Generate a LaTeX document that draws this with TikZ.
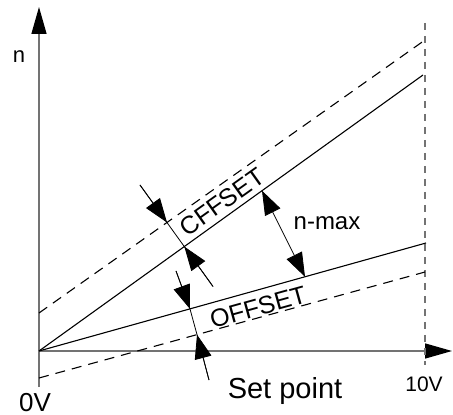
\documentclass[tikz,border=0pt]{standalone}
\usepackage{fontspec}
\setmainfont{Liberation Sans}
\usetikzlibrary{arrows.meta}

\begin{document}
\begin{tikzpicture}[x=0.5pt, y=-0.5pt,
  axisline/.style={draw=black!55, line width=0.7pt},
  axtip/.style={-{Triangle[length=13.5pt, width=7.5pt, color=black]}},
  speedline/.style={line width=0.55pt},
  offsetline/.style={line width=0.55pt, dash pattern=on 5pt off 3.5pt},
  dimline/.style={line width=0.4pt},
  dimtip/.style={-{Triangle[length=12pt, width=8.5pt]}},
  lab/.style={inner sep=0pt, font=\fontsize{12}{14}\selectfont}
]
\useasboundingbox (0,0) rectangle (453,415);

% axes
\coordinate (O) at (39,351);
\coordinate (ytop) at (39,7);
\coordinate (ybot) at (39,387);
\coordinate (xend) at (452,351);
\draw[axisline, axtip] (ybot) -- (ytop);
\draw[axisline, axtip] (O) -- (xend);
\draw[axisline, line width=0.6pt, dash pattern=on 3.5pt off 3pt] (425,23) -- (425,365);

% characteristic lines
\coordinate (hiEnd) at (423,75);
\coordinate (hiOffA) at (39,313);
\coordinate (hiOffB) at (425,40);
\coordinate (loEnd) at (426,243);
\coordinate (loOffA) at (39,378);
\coordinate (loOffB) at (425,272);
\draw[speedline] (O) -- (hiEnd);
\draw[speedline] (O) -- (loEnd);
\draw[offsetline] (hiOffA) -- (hiOffB);
\draw[offsetline] (loOffA) -- (loOffB);

% upper offset dimension
\coordinate (ua) at (140,185);
\coordinate (ub) at (167,222.5);
\coordinate (uc) at (184.3,246.6);
\coordinate (ud) at (213,286.5);
\draw[dimline] (ua) -- (ud);
\draw[dimline, dimtip] (ua) -- (ub);
\draw[dimline, dimtip] (ud) -- (uc);

% lower offset dimension
\coordinate (la) at (176,271);
\coordinate (lb) at (190,309);
\coordinate (lc) at (197,334.6);
\coordinate (ld) at (209,380);
\draw[dimline] (la) -- (lb) -- (lc) -- (ld);
\draw[dimline, dimtip] (la) -- (lb);
\draw[dimline, dimtip] (ld) -- (lc);

% n-max
\coordinate (ma) at (262,190.7);
\coordinate (mb) at (305,276.8);
\draw[dimline, {Triangle[length=12pt, width=8.5pt]}-{Triangle[length=12pt, width=8.5pt]}] (ma) -- (mb);

% labels
\node[lab, rotate=35.5, font=\fontsize{12.5}{14}\selectfont] (cffset) at (222,202) {CFFSET};
\node[lab, rotate=15.5, font=\fontsize{12.5}{14}\selectfont] (offset) at (258,307) {OFFSET};
\node[lab, anchor=base] (nmax) at (327,230) {n-max};
\node[lab, anchor=base, font=\fontsize{11}{13}\selectfont] (nlab) at (19,63) {n};
\node[lab, anchor=base, font=\fontsize{13}{15}\selectfont] (zero) at (35,411) {0V};
\node[lab, anchor=base, font=\fontsize{10.5}{12}\selectfont] (ten) at (424,391.5) {10V};
\node[lab, anchor=base, font=\fontsize{14.5}{17}\selectfont] (setpt) at (285,398) {Set point};
\end{tikzpicture}
\end{document}
